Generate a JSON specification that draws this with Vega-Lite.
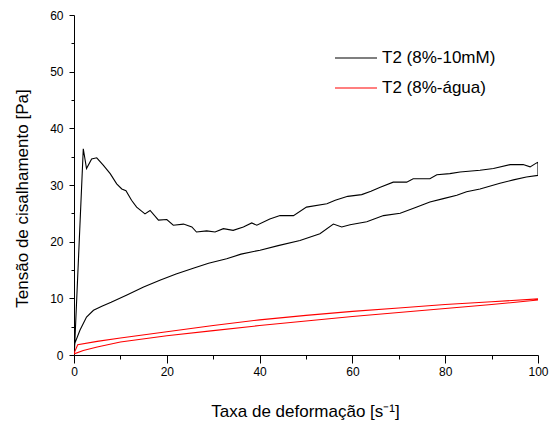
{
  "$schema": "https://vega.github.io/schema/vega-lite/v6.json",
  "autosize": "none",
  "padding": {"left": 74, "top": 15, "right": 11, "bottom": 74},
  "width": 464,
  "height": 340,
  "background": "white",
  "config": {
    "view": {"stroke": null},
    "font": "Liberation Sans",
    "axis": {"grid": false, "domainColor": "black", "tickColor": "black", "labelColor": "black", "titleColor": "black", "labelFont": "Liberation Sans", "titleFont": "Liberation Sans", "labelFontSize": 12, "titleFontSize": 17, "titleFontWeight": "normal", "domainWidth": 1, "tickWidth": 1}
  },
  "data": {"values": [
    {"s": "T2 (8%-10mM)", "i": 0, "x": 0.1, "y": 0.8},
    {"s": "T2 (8%-10mM)", "i": 1, "x": 2.0, "y": 36.4},
    {"s": "T2 (8%-10mM)", "i": 2, "x": 2.7, "y": 32.9},
    {"s": "T2 (8%-10mM)", "i": 3, "x": 3.8, "y": 34.6},
    {"s": "T2 (8%-10mM)", "i": 4, "x": 4.9, "y": 34.8},
    {"s": "T2 (8%-10mM)", "i": 5, "x": 6.3, "y": 33.5},
    {"s": "T2 (8%-10mM)", "i": 6, "x": 7.8, "y": 32.0},
    {"s": "T2 (8%-10mM)", "i": 7, "x": 9.2, "y": 30.2},
    {"s": "T2 (8%-10mM)", "i": 8, "x": 10.3, "y": 29.3},
    {"s": "T2 (8%-10mM)", "i": 9, "x": 11.2, "y": 29.0},
    {"s": "T2 (8%-10mM)", "i": 10, "x": 12.4, "y": 27.3},
    {"s": "T2 (8%-10mM)", "i": 11, "x": 13.5, "y": 26.1},
    {"s": "T2 (8%-10mM)", "i": 12, "x": 15.3, "y": 24.9},
    {"s": "T2 (8%-10mM)", "i": 13, "x": 16.4, "y": 25.5},
    {"s": "T2 (8%-10mM)", "i": 14, "x": 18.2, "y": 23.8},
    {"s": "T2 (8%-10mM)", "i": 15, "x": 20.0, "y": 23.9},
    {"s": "T2 (8%-10mM)", "i": 16, "x": 21.4, "y": 22.9},
    {"s": "T2 (8%-10mM)", "i": 17, "x": 23.6, "y": 23.1},
    {"s": "T2 (8%-10mM)", "i": 18, "x": 25.4, "y": 22.6},
    {"s": "T2 (8%-10mM)", "i": 19, "x": 26.4, "y": 21.7},
    {"s": "T2 (8%-10mM)", "i": 20, "x": 28.6, "y": 21.9},
    {"s": "T2 (8%-10mM)", "i": 21, "x": 30.4, "y": 21.7},
    {"s": "T2 (8%-10mM)", "i": 22, "x": 32.2, "y": 22.3},
    {"s": "T2 (8%-10mM)", "i": 23, "x": 34.3, "y": 22.0},
    {"s": "T2 (8%-10mM)", "i": 24, "x": 36.5, "y": 22.6},
    {"s": "T2 (8%-10mM)", "i": 25, "x": 38.3, "y": 23.3},
    {"s": "T2 (8%-10mM)", "i": 26, "x": 39.4, "y": 22.9},
    {"s": "T2 (8%-10mM)", "i": 27, "x": 42.2, "y": 24.0},
    {"s": "T2 (8%-10mM)", "i": 28, "x": 44.4, "y": 24.6},
    {"s": "T2 (8%-10mM)", "i": 29, "x": 47.3, "y": 24.6},
    {"s": "T2 (8%-10mM)", "i": 30, "x": 50.1, "y": 26.1},
    {"s": "T2 (8%-10mM)", "i": 31, "x": 54.5, "y": 26.7},
    {"s": "T2 (8%-10mM)", "i": 32, "x": 56.3, "y": 27.3},
    {"s": "T2 (8%-10mM)", "i": 33, "x": 59.0, "y": 28.0},
    {"s": "T2 (8%-10mM)", "i": 34, "x": 62.0, "y": 28.3},
    {"s": "T2 (8%-10mM)", "i": 35, "x": 64.0, "y": 28.9},
    {"s": "T2 (8%-10mM)", "i": 36, "x": 66.0, "y": 29.6},
    {"s": "T2 (8%-10mM)", "i": 37, "x": 68.8, "y": 30.5},
    {"s": "T2 (8%-10mM)", "i": 38, "x": 71.7, "y": 30.5},
    {"s": "T2 (8%-10mM)", "i": 39, "x": 73.1, "y": 31.1},
    {"s": "T2 (8%-10mM)", "i": 40, "x": 76.7, "y": 31.1},
    {"s": "T2 (8%-10mM)", "i": 41, "x": 78.2, "y": 31.8},
    {"s": "T2 (8%-10mM)", "i": 42, "x": 81.0, "y": 32.0},
    {"s": "T2 (8%-10mM)", "i": 43, "x": 83.2, "y": 32.3},
    {"s": "T2 (8%-10mM)", "i": 44, "x": 87.5, "y": 32.6},
    {"s": "T2 (8%-10mM)", "i": 45, "x": 90.4, "y": 32.9},
    {"s": "T2 (8%-10mM)", "i": 46, "x": 94.0, "y": 33.6},
    {"s": "T2 (8%-10mM)", "i": 47, "x": 96.8, "y": 33.6},
    {"s": "T2 (8%-10mM)", "i": 48, "x": 98.3, "y": 33.2},
    {"s": "T2 (8%-10mM)", "i": 49, "x": 99.7, "y": 33.9},
    {"s": "T2 (8%-10mM)", "i": 50, "x": 100, "y": 34.0},
    {"s": "T2 (8%-10mM)", "i": 51, "x": 100, "y": 31.7},
    {"s": "T2 (8%-10mM)", "i": 52, "x": 97.5, "y": 31.4},
    {"s": "T2 (8%-10mM)", "i": 53, "x": 94.7, "y": 30.9},
    {"s": "T2 (8%-10mM)", "i": 54, "x": 91.8, "y": 30.3},
    {"s": "T2 (8%-10mM)", "i": 55, "x": 87.5, "y": 29.3},
    {"s": "T2 (8%-10mM)", "i": 56, "x": 84.6, "y": 28.8},
    {"s": "T2 (8%-10mM)", "i": 57, "x": 82.5, "y": 28.2},
    {"s": "T2 (8%-10mM)", "i": 58, "x": 79.6, "y": 27.6},
    {"s": "T2 (8%-10mM)", "i": 59, "x": 76.7, "y": 27.0},
    {"s": "T2 (8%-10mM)", "i": 60, "x": 73.9, "y": 26.1},
    {"s": "T2 (8%-10mM)", "i": 61, "x": 70.3, "y": 25.0},
    {"s": "T2 (8%-10mM)", "i": 62, "x": 66.7, "y": 24.6},
    {"s": "T2 (8%-10mM)", "i": 63, "x": 63.1, "y": 23.5},
    {"s": "T2 (8%-10mM)", "i": 64, "x": 59.5, "y": 23.0},
    {"s": "T2 (8%-10mM)", "i": 65, "x": 57.7, "y": 22.6},
    {"s": "T2 (8%-10mM)", "i": 66, "x": 55.9, "y": 23.1},
    {"s": "T2 (8%-10mM)", "i": 67, "x": 53.0, "y": 21.4},
    {"s": "T2 (8%-10mM)", "i": 68, "x": 48.7, "y": 20.2},
    {"s": "T2 (8%-10mM)", "i": 69, "x": 44.0, "y": 19.3},
    {"s": "T2 (8%-10mM)", "i": 70, "x": 40.1, "y": 18.5},
    {"s": "T2 (8%-10mM)", "i": 71, "x": 36.0, "y": 17.8},
    {"s": "T2 (8%-10mM)", "i": 72, "x": 32.9, "y": 17.0},
    {"s": "T2 (8%-10mM)", "i": 73, "x": 29.0, "y": 16.2},
    {"s": "T2 (8%-10mM)", "i": 74, "x": 25.7, "y": 15.3},
    {"s": "T2 (8%-10mM)", "i": 75, "x": 22.0, "y": 14.3},
    {"s": "T2 (8%-10mM)", "i": 76, "x": 18.5, "y": 13.2},
    {"s": "T2 (8%-10mM)", "i": 77, "x": 15.0, "y": 12.0},
    {"s": "T2 (8%-10mM)", "i": 78, "x": 11.4, "y": 10.6},
    {"s": "T2 (8%-10mM)", "i": 79, "x": 8.0, "y": 9.3},
    {"s": "T2 (8%-10mM)", "i": 80, "x": 6.0, "y": 8.6},
    {"s": "T2 (8%-10mM)", "i": 81, "x": 4.2, "y": 7.9},
    {"s": "T2 (8%-10mM)", "i": 82, "x": 2.7, "y": 6.7},
    {"s": "T2 (8%-10mM)", "i": 83, "x": 1.3, "y": 4.4},
    {"s": "T2 (8%-10mM)", "i": 84, "x": 0.2, "y": 2.1},
    {"s": "T2 (8%-10mM)", "i": 85, "x": 0.0, "y": 0.8},
    {"s": "T2 (8%-água)", "i": 0, "x": 0.0, "y": 0.3},
    {"s": "T2 (8%-água)", "i": 1, "x": 0.8, "y": 1.8},
    {"s": "T2 (8%-água)", "i": 2, "x": 5, "y": 2.4},
    {"s": "T2 (8%-água)", "i": 3, "x": 10, "y": 3.0},
    {"s": "T2 (8%-água)", "i": 4, "x": 20, "y": 4.1},
    {"s": "T2 (8%-água)", "i": 5, "x": 30, "y": 5.2},
    {"s": "T2 (8%-água)", "i": 6, "x": 40, "y": 6.2},
    {"s": "T2 (8%-água)", "i": 7, "x": 50, "y": 7.0},
    {"s": "T2 (8%-água)", "i": 8, "x": 60, "y": 7.7},
    {"s": "T2 (8%-água)", "i": 9, "x": 70, "y": 8.3},
    {"s": "T2 (8%-água)", "i": 10, "x": 80, "y": 8.9},
    {"s": "T2 (8%-água)", "i": 11, "x": 90, "y": 9.4},
    {"s": "T2 (8%-água)", "i": 12, "x": 100, "y": 9.9},
    {"s": "T2 (8%-água)", "i": 13, "x": 100, "y": 9.7},
    {"s": "T2 (8%-água)", "i": 14, "x": 90, "y": 8.9},
    {"s": "T2 (8%-água)", "i": 15, "x": 80, "y": 8.2},
    {"s": "T2 (8%-água)", "i": 16, "x": 70, "y": 7.5},
    {"s": "T2 (8%-água)", "i": 17, "x": 60, "y": 6.8},
    {"s": "T2 (8%-água)", "i": 18, "x": 50, "y": 6.0},
    {"s": "T2 (8%-água)", "i": 19, "x": 40, "y": 5.2},
    {"s": "T2 (8%-água)", "i": 20, "x": 30, "y": 4.3},
    {"s": "T2 (8%-água)", "i": 21, "x": 20, "y": 3.4},
    {"s": "T2 (8%-água)", "i": 22, "x": 10, "y": 2.3},
    {"s": "T2 (8%-água)", "i": 23, "x": 5, "y": 1.4},
    {"s": "T2 (8%-água)", "i": 24, "x": 2, "y": 0.8},
    {"s": "T2 (8%-água)", "i": 25, "x": 0, "y": 0.2}
  ]},
  "mark": {"type": "line", "strokeWidth": 1.1, "clip": true},
  "encoding": {
    "x": {"field": "x", "type": "quantitative", "scale": {"domain": [0, 100], "nice": false, "zero": false},
      "axis": {"values": [0,10,20,30,40,50,60,70,80,90,100], "labelExpr": "datum.value % 20 === 0 ? datum.label : ''", "tickSize": {"condition": {"test": "datum.value % 20 === 0", "value": 8}, "value": 4}, "labelPadding": 3, "labelFlush": false, "title": "Taxa de deformação [s⁻¹]", "titleX": 231, "titleY": 61, "titleAlign": "center", "titleBaseline": "alphabetic"}},
    "y": {"field": "y", "type": "quantitative", "scale": {"domain": [0, 60], "nice": false, "zero": false},
      "axis": {"values": [0,5,10,15,20,25,30,35,40,45,50,55,60], "labelExpr": "datum.value % 10 === 0 ? datum.label : ''", "tickSize": {"condition": {"test": "datum.value % 10 === 0", "value": 5}, "value": 3}, "labelPadding": 6, "labelFlush": false, "title": "Tensão de cisalhamento [Pa]", "titleX": -52, "titleY": 183, "titleAngle": -90, "titleAlign": "center", "titleBaseline": "middle"}},
    "color": {"field": "s", "type": "nominal", "scale": {"domain": ["T2 (8%-10mM)", "T2 (8%-água)"], "range": ["black", "red"]},
      "legend": {"title": null, "orient": "none", "legendX": 260, "legendY": 21, "symbolType": "stroke", "symbolSize": 1764, "symbolStrokeWidth": 1.2, "labelFontSize": 17, "labelFont": "Liberation Sans", "labelColor": "black", "labelOffset": 4, "rowPadding": -20}},
    "order": {"field": "i", "type": "quantitative"}
  }
}
